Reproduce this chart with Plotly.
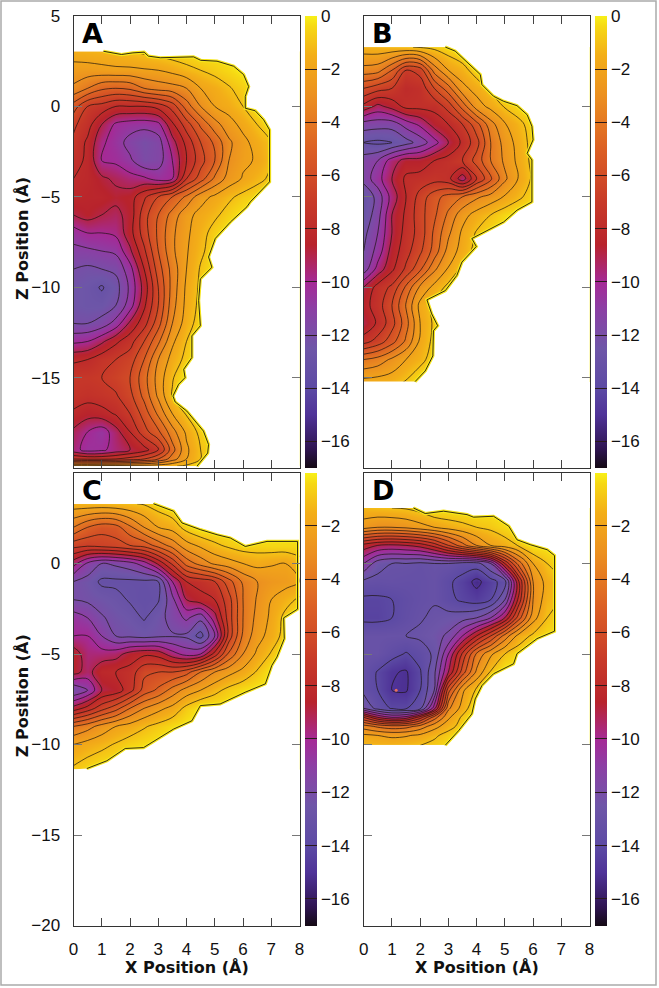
import plotly.graph_objects as go

X_GRID = [0.0, 0.5, 1.0, 1.5, 2.0, 2.5, 3.0, 3.5, 4.0, 4.5, 5.0, 5.5, 6.0, 6.5, 7.0, 7.5, 8.0]

Z_A = [3.05, 2, 1, 0, -1, -2, -3, -4, -5, -6, -7, -8, -9, -10, -11, -12, -13, -14, -15, -16, -17, -18, -19, -19.5, -19.9]
E_A = [
 [-1.5,-1.4,-1.3,-1.2,-1.0,-0.8,-0.6,-0.4,-0.3],
 [-2.4,-2.4,-2.3,-2.2,-2.2,-2.1,-2.0,-1.7,-1.3,-1.0,-0.7,-0.4],
 [-3.2,-4.0,-4.8,-5.0,-4.8,-4.0,-3.6,-3.4,-3.0,-2.0,-1.6,-1.1,-0.6],
 [-5.5,-7.0,-7.4,-8.0,-8.0,-8.0,-7.6,-6.6,-4.5,-3.0,-2.0,-1.6,-1.0],
 [-6.8,-7.6,-9.0,-10.2,-10.5,-10.6,-10.3,-8.2,-6.5,-4.8,-3.4,-2.4,-1.7,-1.0],
 [-7.2,-8.2,-9.8,-10.5,-11.4,-12.0,-11.5,-9.4,-7.7,-6.0,-4.8,-3.2,-2.3,-1.6,-1.0],
 [-7.6,-8.2,-10.0,-10.2,-10.8,-11.8,-11.5,-10.0,-8.0,-6.4,-5.0,-3.0,-2.2,-1.9,-1.0],
 [-8.0,-8.2,-8.8,-9.2,-9.6,-9.8,-10.4,-10.0,-7.0,-5.5,-3.8,-2.6,-1.9,-1.3,-0.8],
 [-8.2,-8.4,-8.4,-8.7,-8.5,-7.2,-6.0,-5.0,-3.8,-2.4,-1.8,-1.2,-0.7,-0.4],
 [-9.0,-8.6,-9.0,-9.3,-8.6,-6.4,-5.0,-3.6,-2.3,-1.7,-1.2,-0.6],
 [-10.5,-10.0,-10.0,-9.8,-8.4,-6.5,-4.8,-3.2,-2.2,-1.4,-0.6],
 [-11.3,-11.2,-11.0,-10.8,-9.2,-7.2,-5.0,-3.2,-2.1,-1.2,-0.5],
 [-12.0,-12.2,-12.0,-11.8,-10.4,-8.0,-5.5,-3.6,-2.0,-0.9],
 [-12.4,-12.6,-13.1,-12.4,-10.8,-8.6,-6.0,-3.6,-1.8,-0.8],
 [-12.4,-12.6,-12.6,-12.0,-10.5,-8.2,-6.0,-3.4,-1.7,-0.7],
 [-12.0,-12.0,-11.6,-10.6,-8.8,-7.4,-5.4,-3.0,-1.5,-0.5],
 [-10.2,-10.0,-9.2,-8.2,-7.4,-6.0,-4.2,-2.2,-1.0],
 [-8.2,-8.0,-7.4,-7.0,-6.5,-5.0,-3.0,-1.6,-0.7],
 [-7.2,-7.2,-7.0,-6.6,-6.0,-4.4,-2.6,-1.1],
 [-7.4,-7.6,-7.4,-7.1,-6.3,-4.7,-2.8,-0.9],
 [-8.2,-8.6,-8.4,-7.9,-7.0,-5.6,-3.8,-2.0,-0.9],
 [-9.2,-10.0,-10.6,-9.4,-8.0,-6.4,-5.2,-3.4,-1.8,-0.7],
 [-9.6,-10.4,-10.2,-9.6,-9.0,-8.4,-7.2,-4.4,-2.2,-1.0,-0.4],
 [-7.0,-7.2,-7.2,-7.0,-6.6,-6.0,-5.0,-3.5,-2.0,-1.0],
 [-1.6,-1.6,-1.5,-1.5,-1.4,-1.4,-1.3,-1.1,-0.8],
]
EDGE_A_X = [0, 1.06, 1.7, 2.1, 2.5, 2.65, 3.07, 4.25, 4.5, 5.08, 5.67, 6.02, 6.2, 6.08, 6.08, 6.43, 6.73, 6.94, 6.94, 6.26, 6.14, 5.55, 5.02, 4.78, 4.9, 4.49, 4.43, 4.49, 4.19, 4.19, 3.9, 3.95, 3.72, 3.52, 3.6, 4.01, 4.6, 4.78, 4.75, 4.37, 0]
EDGE_A_Z = [3.05, 3.05, 2.87, 2.96, 3.0, 2.78, 2.69, 2.74, 2.55, 2.5, 2.22, 1.76, 1.1, 0.55, -0.1, -0.24, -0.74, -1.3, -4.17, -5.28, -5.55, -6.4, -7.3, -8.33, -8.9, -9.54, -10.74, -12.13, -12.69, -13.89, -14.54, -15.0, -15.37, -16.02, -16.35, -16.85, -17.96, -18.7, -19.17, -19.9, -19.9]

Z_B = [3.28, 2, 1, 0, -1, -2, -3, -4, -5, -6, -7, -8, -9, -10, -11, -12, -13, -14, -15.25]
E_B = [
 [-1.4,-1.3,-1.2,-1.1,-0.9,-0.7,-0.4],
 [-3.4,-3.6,-5.0,-7.0,-6.6,-3.6,-2.0,-1.4,-0.5],
 [-6.0,-6.6,-7.0,-8.0,-7.7,-6.0,-4.4,-2.3,-1.6,-0.8],
 [-8.3,-9.3,-8.6,-7.7,-7.7,-7.7,-6.6,-4.6,-2.5,-1.7,-0.9,-0.4],
 [-11.5,-11.6,-11.6,-10.6,-9.8,-8.6,-8.0,-7.0,-5.4,-3.4,-2.1,-1.3,-0.5],
 [-13.0,-13.2,-13.0,-12.4,-11.6,-10.4,-9.0,-7.8,-6.4,-4.0,-2.6,-1.6,-0.6],
 [-11.5,-11.0,-9.5,-8.6,-8.6,-8.0,-7.6,-7.0,-5.6,-4.0,-2.8,-1.7,-0.7],
 [-11.6,-10.4,-9.0,-7.8,-7.6,-7.4,-7.7,-9.6,-7.0,-5.2,-3.2,-1.9,-0.8],
 [-13.0,-11.6,-9.6,-8.0,-6.6,-5.4,-4.6,-4.0,-3.2,-2.6,-1.9,-1.2,-0.5],
 [-12.8,-11.4,-9.0,-7.8,-6.4,-5.2,-3.8,-2.4,-1.6,-1.0,-0.4],
 [-12.3,-11.0,-9.0,-7.6,-6.6,-4.8,-3.2,-1.8,-0.9,-0.4],
 [-12.0,-10.6,-8.6,-7.4,-6.2,-4.6,-2.6,-1.6,-0.6],
 [-11.6,-9.6,-8.2,-6.8,-5.2,-3.2,-1.9,-0.7],
 [-9.0,-7.6,-6.8,-4.8,-2.8,-1.7,-0.7],
 [-8.4,-7.5,-6.0,-3.9,-1.7,-0.7],
 [-9.0,-7.8,-6.4,-4.4,-2.0,-0.8],
 [-7.4,-6.6,-5.4,-3.8,-1.8,-0.7],
 [-4.0,-3.6,-2.8,-2.0,-1.4,-0.4],
 [-1.6,-1.5,-1.4,-0.9],
]
EDGE_B_X = [0.08, 2.89, 3.24, 4.13, 4.19, 4.6, 4.96, 5.43, 5.79, 5.96, 6.0, 5.79, 5.96, 5.96, 5.43, 4.96, 4.37, 3.83, 3.99, 3.48, 3.3, 2.89, 2.24, 2.41, 2.62, 2.47, 2.45, 2.18, 1.82, 0.08]
EDGE_B_Z = [3.28, 3.28, 3.06, 1.76, 1.2, 0.56, 0.28, 0.04, -0.46, -1.1, -1.85, -2.6, -2.96, -5.28, -5.74, -6.39, -6.85, -7.31, -7.75, -8.61, -9.35, -10.19, -10.7, -11.48, -12.13, -12.41, -13.8, -14.63, -15.22, -15.22]

Z_C = [3.3, 2, 1, 0, -1, -2, -3, -4, -5, -6, -7, -8, -9, -10, -11.4]
E_C = [
 [-1.4,-1.3,-1.3,-1.2,-1.1,-0.9,-0.5],
 [-4.0,-5.0,-5.6,-5.4,-4.2,-3.0,-2.0,-1.6,-0.6],
 [-6.6,-6.8,-6.6,-6.4,-6.0,-5.6,-4.6,-3.6,-2.4,-1.8,-1.2,-0.8,-0.5,-0.5,-0.4,-0.4,-0.4],
 [-9.6,-11.2,-12.0,-11.8,-11.4,-10.5,-8.8,-6.8,-4.6,-3.6,-2.8,-2.4,-2.0,-1.7,-1.9,-2.0,-1.4],
 [-12.0,-12.4,-13.2,-13.2,-13.2,-13.2,-13.0,-10.0,-8.0,-7.6,-7.0,-5.4,-3.8,-3.0,-2.6,-2.4,-2.0],
 [-12.0,-12.2,-12.4,-12.7,-13.1,-13.3,-13.1,-11.3,-9.0,-8.4,-8.0,-6.4,-4.0,-2.9,-2.0,-1.4,-0.8],
 [-10.5,-11.0,-11.9,-12.3,-12.6,-13.1,-12.4,-11.6,-10.8,-11.7,-9.4,-6.5,-4.0,-2.7,-1.8,-0.7],
 [-10.0,-10.0,-11.0,-12.0,-12.2,-12.4,-12.2,-12.1,-12.2,-13.4,-11.0,-6.6,-3.8,-2.4,-1.6,-0.6],
 [-8.4,-9.6,-9.6,-9.4,-8.6,-8.2,-8.4,-9.6,-10.4,-10.0,-7.6,-4.8,-3.0,-1.8,-0.9],
 [-8.6,-9.4,-8.2,-8.0,-7.6,-6.2,-6.0,-6.0,-5.4,-4.0,-3.0,-2.3,-1.7,-0.9],
 [-12.0,-11.0,-9.0,-8.6,-7.4,-5.6,-4.8,-3.6,-2.6,-2.0,-1.3,-0.7,-0.3],
 [-8.6,-7.6,-6.4,-5.4,-4.0,-3.0,-2.3,-1.7,-0.7],
 [-4.0,-3.4,-2.6,-2.0,-1.6,-1.1,-0.7,-0.3],
 [-2.0,-1.6,-1.3,-0.9,-0.5,-0.3],
 [-0.8,-0.4],
]
EDGE_C_X = [0.09, 2.83, 3.54, 3.84, 4.49, 5.08, 5.55, 6.08, 6.85, 7.93, 7.93, 7.44, 7.46, 7.2, 7.02, 6.79, 6.08, 5.19, 4.49, 4.19, 3.54, 2.48, 1.83, 1.18, 0.47, 0.09]
EDGE_C_Z = [3.3, 3.3, 2.89, 2.24, 1.87, 1.59, 1.41, 0.94, 1.22, 1.22, -2.52, -3.0, -4.15, -5.17, -5.63, -6.65, -7.11, -7.76, -7.85, -8.69, -9.15, -10.17, -10.22, -10.9, -11.33, -11.37]

Z_D = [3.07, 2, 1, 0, -1, -2, -3, -4, -5, -6, -7, -8, -8.5, -9, -9.5, -10.05]
E_D = [
 [-1.2,-1.1,-1.0,-0.9,-0.6],
 [-2.6,-3.0,-3.0,-2.8,-2.4,-2.0,-1.6,-1.3,-1.0,-0.8,-0.4],
 [-8.4,-9.0,-9.2,-9.0,-8.6,-7.6,-6.0,-4.4,-3.0,-2.0,-1.5,-0.9],
 [-11.0,-12.6,-13.0,-13.0,-13.2,-13.0,-13.0,-13.4,-13.4,-12.0,-8.0,-4.5,-2.0,-1.0],
 [-13.2,-13.3,-13.2,-13.3,-13.3,-13.1,-13.8,-14.4,-15.3,-14.4,-13.5,-8.0,-3.0,-1.6,-1.0],
 [-14.2,-14.2,-14.0,-13.6,-13.3,-13.1,-13.7,-14.2,-14.5,-14.0,-12.0,-7.6,-3.0,-1.4,-0.9],
 [-14.3,-14.3,-14.0,-13.5,-13.1,-12.8,-12.6,-12.4,-12.0,-11.0,-9.0,-5.4,-2.4,-1.0,-0.6],
 [-13.0,-13.0,-13.0,-13.0,-12.8,-12.4,-11.8,-10.0,-8.0,-6.0,-3.6,-1.6,-0.8,-0.4],
 [-13.0,-13.0,-13.6,-14.1,-13.6,-12.8,-10.0,-6.8,-3.8,-2.2,-1.0,-0.4],
 [-13.2,-14.1,-14.9,-15.1,-14.1,-12.2,-9.0,-5.5,-2.8,-0.9],
 [-13.3,-14.0,-15.0,-15.1,-14.0,-12.0,-5.4,-2.2,-0.8],
 [-12.0,-13.4,-14.1,-14.1,-13.3,-9.5,-3.2,-1.6],
 [-7.0,-9.0,-10.0,-9.6,-7.5,-4.5,-2.2,-0.8],
 [-3.5,-4.2,-4.6,-4.4,-3.6,-2.4,-1.4,-0.6],
 [-1.8,-2.0,-2.2,-2.1,-1.8,-1.2,-0.6],
 [-1.2,-1.3,-1.3,-1.2,-1.0,-0.7,-0.4],
]
EDGE_D_X = [0, 1.76, 2.18, 2.83, 3.66, 3.89, 4.6, 5.14, 5.43, 5.9, 6.5, 6.76, 6.76, 6.14, 5.43, 5.31, 4.6, 4.19, 3.95, 3.83, 3.36, 2.89, 0]
EDGE_D_Z = [3.07, 3.07, 2.76, 2.89, 2.7, 2.56, 2.61, 2.06, 1.31, 1.04, 0.76, 0.44, -3.74, -4.15, -4.98, -5.54, -6.09, -6.74, -7.48, -8.31, -9.24, -10.04, -10.04]
DOT_X = [1.15]
DOT_Z = [-7.0]

PANEL_LETTERS = ["A", "B", "C", "D"]
X_TITLE = "X Position (Å)"
Y_TITLE = "Z Position (Å)"
SCALE_VALUES = [-17, -16.3, -15, -14, -12.5, -11, -10, -8.6, -7, -5, -3, -1.5, -0.4, 0]
SCALE_COLORS = ["#140a14", "#2e1450", "#4f3398", "#5c4aa4", "#6e56a8", "#8c3fa4", "#a52a96",
                "#b8232c", "#c83a28", "#dc6024", "#ec9020", "#f3ae18", "#f6d814", "#f8f018"]
CB_TICKS = [0, -2, -4, -6, -8, -10, -12, -14, -16]
CB_TICKS_LOWER = [-2, -4, -6, -8, -10, -12, -14, -16]
X_TICKS = [0, 1, 2, 3, 4, 5, 6, 7, 8]
Y_TICKS_TOP = [5, 0, -5, -10, -15]
Y_TICKS_BOTTOM = [0, -5, -10, -15, -20]
OUTSIDE = -0.05

W, H = 659, 988
colorscale = [[(v + 17) / 17, c] for v, c in zip(SCALE_VALUES, SCALE_COLORS)]


def fx(px):
    return px / W


def fy(py):
    return 1 - py / H


def pad(rows):
    return [r + [OUTSIDE] * (17 - len(r)) for r in rows]


panels = [
    dict(y=Z_A, z=E_A, ex=EDGE_A_X, ez=EDGE_A_Z, px=(73.5, 299.5), py=(16, 468), cb=305, ticks=CB_TICKS),
    dict(y=Z_B, z=E_B, ex=EDGE_B_X, ez=EDGE_B_Z, px=(363.7, 589.5), py=(16, 468), cb=595, ticks=CB_TICKS),
    dict(y=Z_C, z=E_C, ex=EDGE_C_X, ez=EDGE_C_Z, px=(73.5, 299.5), py=(473, 925.5), cb=305, ticks=CB_TICKS_LOWER),
    dict(y=Z_D, z=E_D, ex=EDGE_D_X, ez=EDGE_D_Z, px=(363.7, 589.5), py=(473, 925.5), cb=595, ticks=CB_TICKS_LOWER),
]

fig = go.Figure()
layout = {}
annotations = []
tick_font = dict(family="Liberation Sans", size=17, color="#111")
title_font = dict(family="DejaVu Sans", size=16, color="#111", weight="bold")
for i, p in enumerate(panels):
    n = i + 1
    xa, ya = f"x{n}", f"y{n}"
    z = pad(p["z"])
    fig.add_trace(go.Contour(
        x=X_GRID, y=p["y"], z=z, xaxis=xa, yaxis=ya, zmin=-17, zmax=0, zauto=False,
        colorscale=colorscale, hoverinfo="skip",
        contours=dict(coloring="heatmap", start=-16, end=-1, size=1, showlines=False),
        line=dict(width=0),
        colorbar=dict(
            x=fx(p["cb"]), xanchor="left", xpad=0, y=fy(p["py"][1]), yanchor="bottom", ypad=0,
            len=(p["py"][1] - p["py"][0]) / H, lenmode="fraction", thickness=12, thicknessmode="pixels",
            outlinewidth=0, tickmode="array", tickvals=p["ticks"], ticks="inside", ticklen=12,
            tickcolor="#2a1a1a", tickwidth=1, tickfont=tick_font, ticklabelposition="outside",
        ),
    ))
    fig.add_trace(go.Contour(
        x=X_GRID, y=p["y"], z=z, xaxis=xa, yaxis=ya, showscale=False, hoverinfo="skip",
        contours=dict(coloring="none", start=-16, end=-1, size=1),
        line=dict(color="#1c1410", width=0.7, smoothing=1),
    ))
    # white mask: everything outside the sampled region, from the traced outline
    fig.add_trace(go.Scatter(
        x=p["ex"] + [0, 0, 8, 8, 0, 0], y=p["ez"] + [p["ez"][-1], -20, -20, 5, 5, p["ez"][0]],
        xaxis=xa, yaxis=ya, mode="lines", fill="toself", fillcolor="white", line=dict(width=0),
        hoverinfo="skip", showlegend=False,
    ))
    ex, ez = p["ex"][1:-1], p["ez"][1:-1]
    fig.add_trace(go.Scatter(x=ex, y=ez, xaxis=xa, yaxis=ya, mode="lines", line=dict(color="#f6e61a", width=3.2),
                             hoverinfo="skip", showlegend=False))
    fig.add_trace(go.Scatter(x=ex, y=ez, xaxis=xa, yaxis=ya, mode="lines", line=dict(color="#1c1410", width=0.9),
                             hoverinfo="skip", showlegend=False))
    if i == 3:
        fig.add_trace(go.Scatter(x=DOT_X, y=DOT_Z, xaxis=xa, yaxis=ya, mode="markers",
                                 marker=dict(color="#e8705c", size=3), hoverinfo="skip", showlegend=False))
    left = i in (0, 2)
    bottom = i in (2, 3)
    layout[f"xaxis{n}"] = dict(
        domain=[fx(p["px"][0]), fx(p["px"][1])], range=[0, 8], anchor=ya, tickmode="array", tickvals=X_TICKS,
        ticks="inside", ticklen=8, tickcolor="#444", mirror="allticks", showline=True, linecolor="#333",
        linewidth=1, showgrid=False, zeroline=False, showticklabels=bottom, tickfont=tick_font,
        ticklabelstandoff=8, automargin=False,
    )
    layout[f"yaxis{n}"] = dict(
        domain=[fy(p["py"][1]), fy(p["py"][0])], range=[-20, 5], anchor=xa, tickmode="array",
        tickvals=Y_TICKS_TOP if i == 0 else Y_TICKS_BOTTOM, ticks="inside", ticklen=8, tickcolor="#777",
        mirror="allticks", showline=True, linecolor="#333", linewidth=1, showgrid=False, zeroline=False,
        showticklabels=left, tickfont=tick_font, ticklabelstandoff=9, automargin=False,
    )
    annotations.append(dict(
        text=f"<b>{PANEL_LETTERS[i]}</b>", xref="paper", yref="paper", xanchor="left", yanchor="top", showarrow=False,
        x=fx(p["px"][0] + 6), y=fy(p["py"][0]), font=dict(family="DejaVu Sans", size=27, color="#000"),
    ))
    if bottom:
        annotations.append(dict(
            text=f"<b>{X_TITLE}</b>", xref="paper", yref="paper", xanchor="center", yanchor="middle", showarrow=False,
            x=fx(sum(p["px"]) / 2 + 0.5), y=fy(967), font=title_font,
        ))
    if left:
        annotations.append(dict(
            text=f"<b>{Y_TITLE}</b>", xref="paper", yref="paper", xanchor="center", yanchor="middle", showarrow=False,
            x=fx(22), y=fy(sum(p["py"]) / 2 - 3), textangle=-90, font=title_font,
        ))

fig.update_layout(
    **layout, width=W, height=H, margin=dict(l=0, r=0, t=0, b=0, pad=0), autosize=False,
    paper_bgcolor="white", plot_bgcolor="white", showlegend=False, annotations=annotations,
    shapes=[dict(type="rect", xref="paper", yref="paper", x0=fx(1), x1=fx(656), y0=fy(985), y1=fy(1),
                 line=dict(color="#aaaaaa", width=1.5), layer="below")],
)
fig.write_html("out.html", config={"displayModeBar": False}, post_script="document.body.style.margin='0';")
